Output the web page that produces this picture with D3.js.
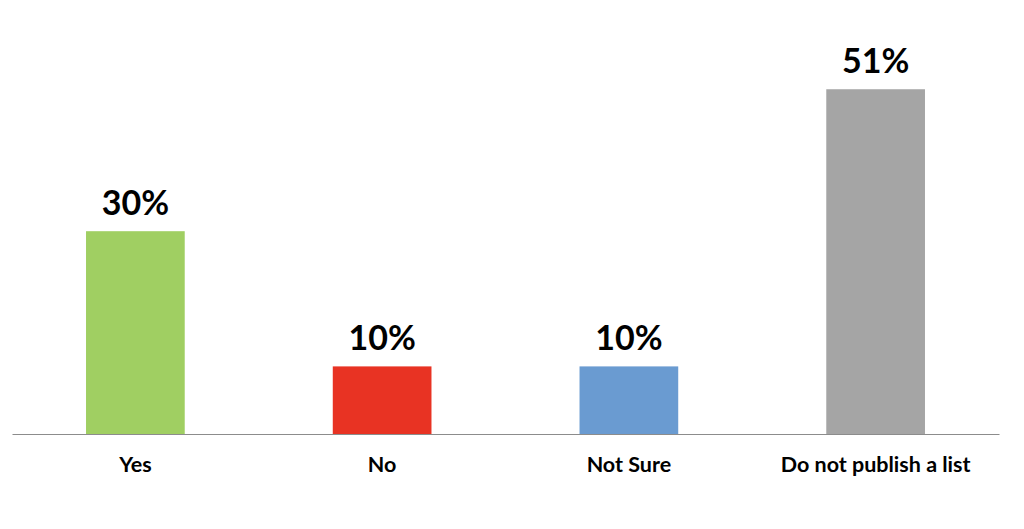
<!DOCTYPE html>
<html><head><meta charset="utf-8">
<script src="https://cdn.jsdelivr.net/npm/d3@7"></script>
<style>html,body{margin:0;padding:0;background:#fff;}svg{display:block;}</style>
</head><body>
<svg id="chart" width="1024" height="529"></svg>
<script>
const categories = ["Yes", "No", "Not Sure", "Do not publish a list"];
const values = [30, 10, 10, 51];
const valueLabels = ["30%", "10%", "10%", "51%"];
const colors = ["#A0CF62", "#E83323", "#6A9BD1", "#A5A5A5"];

const svg = d3.select("#chart");
const x = d3.scaleBand().domain(categories).range([12, 999]).paddingInner(0.6).paddingOuter(0.3);
const y = d3.scaleLinear().domain([0, 60]).range([434, 28.4]);
const font = "Lato, 'Open Sans', sans-serif";

svg.selectAll("rect.bar").data(categories).enter().append("rect")
  .attr("class", "bar")
  .attr("x", d => x(d))
  .attr("width", x.bandwidth())
  .attr("y", (d, i) => y(values[i]))
  .attr("height", (d, i) => y(0) - y(values[i]))
  .attr("fill", (d, i) => colors[i]);

const xAxis = svg.append("g").attr("transform", `translate(0,${y(0)})`)
  .call(d3.axisBottom(x).tickSize(0).tickPadding(0));
xAxis.select(".domain").attr("stroke", "#8c8c8c").attr("stroke-width", 1.2);
xAxis.selectAll("text")
  .attr("y", 37.5)
  .attr("dy", 0)
  .style("font-family", font)
  .style("font-weight", "bold")
  .style("font-size", "21.5px")
  .attr("fill", "#000");

svg.selectAll("text.val").data(categories).enter().append("text")
  .attr("class", "val")
  .attr("x", d => x(d) + x.bandwidth() / 2)
  .attr("y", (d, i) => y(values[i]) - 16)
  .attr("text-anchor", "middle")
  .style("font-family", font)
  .style("font-weight", "bold")
  .style("font-size", "34px")
  .attr("fill", "#000")
  .text((d, i) => valueLabels[i]);
</script>
</body></html>
